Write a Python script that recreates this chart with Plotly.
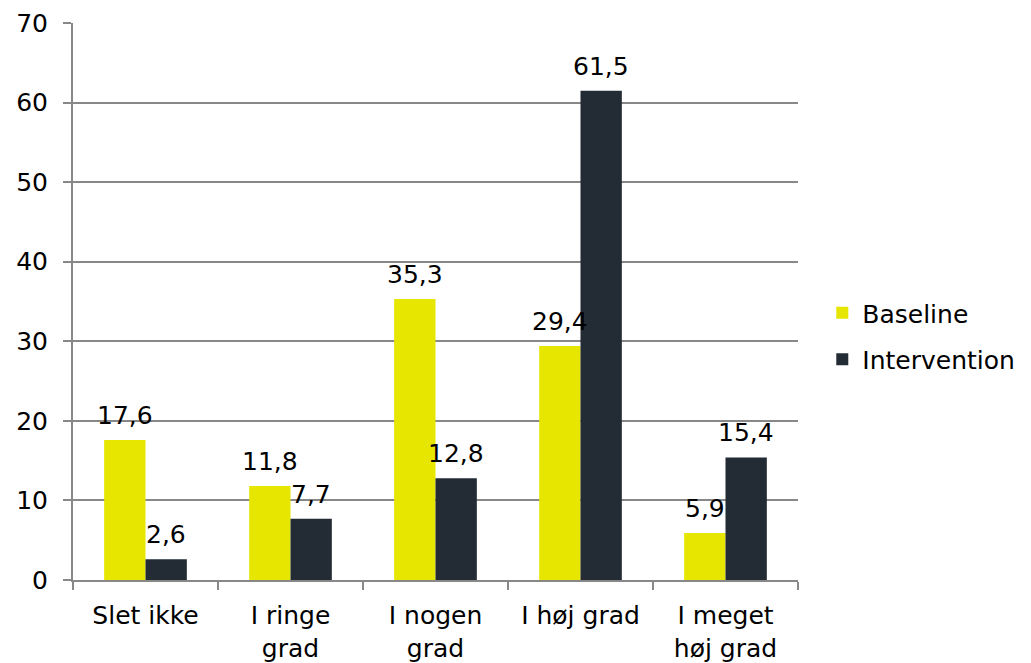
import plotly.graph_objects as go

categories = ["Slet ikke", "I ringe<br>grad", "I nogen<br>grad", "I høj grad", "I meget<br>høj grad"]
baseline = [17.6, 11.8, 35.3, 29.4, 5.9]
intervention = [2.6, 7.7, 12.8, 61.5, 15.4]
y_ticks = [0, 10, 20, 30, 40, 50, 60, 70]

FONT = "DejaVu Sans, Verdana, sans-serif"
fs = 25

def fmt(v):
    return f"{v:.1f}".replace(".", ",")

fig = go.Figure()
fig.add_trace(go.Bar(x=categories, y=baseline, name="Baseline", marker_color="#E6E600",
                     marker_line_width=0, legendgroup="a"))
fig.add_trace(go.Bar(x=categories, y=intervention, name="Intervention", marker_color="#232B35",
                     marker_line_width=0, legendgroup="b"))

# value labels above bars (offset to each bar of the group)
bar_offset = 20.7
for series, shift in ((baseline, -bar_offset), (intervention, bar_offset)):
    for cat, v in zip(categories, series):
        fig.add_annotation(x=cat, y=v, xref="x", yref="y", text=fmt(v), showarrow=False,
                           xshift=shift, yshift=8, yanchor="bottom", xanchor="center",
                           font=dict(size=fs, color="#000000", family=FONT))

fig.update_layout(
    width=1031, height=663,
    margin=dict(l=65, r=241, t=15, b=91),
    paper_bgcolor="white", plot_bgcolor="white",
    barmode="group", bargap=0.43, bargroupgap=0,
    font=dict(family=FONT, size=fs, color="#000000"),
    legend=dict(x=1.0335, y=0.438, yanchor="middle", xanchor="left",
                font=dict(size=fs), tracegroupgap=11, itemwidth=30),
    showlegend=True,
)
fig.update_xaxes(showline=True, linecolor="#888888", linewidth=2, automargin=False,
                 ticks="outside", tickson="boundaries", ticklen=8, tickcolor="#888888", tickwidth=2,
                 ticklabelstandoff=12,
                 tickfont=dict(size=fs, family=FONT))
fig.update_yaxes(range=[0, 70], tickvals=y_ticks, showgrid=True, gridcolor="#888888", gridwidth=2,
                 showline=True, linecolor="#888888", linewidth=2, automargin=False,
                 ticks="outside", ticklen=8, tickcolor="#888888", tickwidth=2,
                 ticklabelstandoff=10,
                 tickfont=dict(size=fs, family=FONT), zeroline=False)

fig.write_html("out.html")
